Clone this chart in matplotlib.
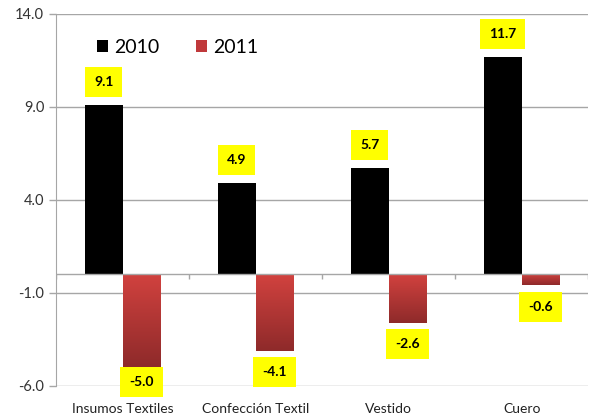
import numpy as np
import matplotlib
matplotlib.use("Agg")
import matplotlib.pyplot as plt
from matplotlib.colors import LinearSegmentedColormap

plt.rcParams['font.family'] = ['Lato', 'DejaVu Sans']

categorias = ['Insumos Textiles', 'Confección Textil', 'Vestido', 'Cuero']
valores_2010 = [9.1, 4.9, 5.7, 11.7]
valores_2011 = [-5.0, -4.1, -2.6, -0.6]
y_ticks = [-6.0, -1.0, 4.0, 9.0, 14.0]

fig = plt.figure(figsize=(5.9, 4.19), dpi=100)
ax = fig.add_axes([0.095, 0.079, 0.902, 0.888])

x = np.arange(len(categorias))
ancho = 0.285
gris = '#a6a6a6'

for y in y_ticks:
    ax.axhline(y, color=gris, lw=1.0, zorder=0)

b1 = ax.bar(x - ancho / 2, valores_2010, ancho, color='black', label='2010', zorder=2)
b2 = ax.bar(x + ancho / 2, valores_2011, ancho, color='#c0393b', label='2011', zorder=2)

# degradado en las barras rojas
cmap = LinearSegmentedColormap.from_list('rojo', ['#d2423f', '#8e2a2a'])
grad = np.linspace(0, 1, 256).reshape(-1, 1)
for rect in b2:
    x0, y0 = rect.get_x(), rect.get_y()
    w, h = rect.get_width(), rect.get_height()
    img = ax.imshow(grad, cmap=cmap, aspect='auto', zorder=3,
                    extent=[x0, x0 + w, y0 + h, y0])
    img.set_clip_path(rect)

# eje de categorías en cero
ax.axhline(0, color=gris, lw=1.0, zorder=4)
ax.vlines(np.arange(len(categorias) + 1) - 0.5, -0.28, 0, color=gris, lw=1.0, zorder=4)

caja = dict(boxstyle='square,pad=0.65', fc='yellow', ec='none')
for xi, v in zip(x - ancho / 2, valores_2010):
    ax.annotate(f'{v:.1f}', (xi, v), xytext=(0, 16.5), textcoords='offset points',
                ha='center', va='center', fontsize=10, fontweight='bold', bbox=caja, zorder=5)
for xi, v in zip(x + ancho / 2, valores_2011):
    # la etiqueta más baja queda pegada a la barra para no salir del gráfico
    dy = -10.5 if v < -4.5 else -15.5
    ax.annotate(f'{v:.1f}', (xi, v), xytext=(0, dy), textcoords='offset points',
                ha='center', va='center', fontsize=10, fontweight='bold', bbox=caja, zorder=5)

ax.set_xlim(-0.5, len(categorias) - 0.5)
ax.set_ylim(-6, 14)
ax.set_yticks(y_ticks)
ax.set_yticklabels([f'{v:.1f}' for v in y_ticks], fontsize=10.5, color='#333333')
ax.tick_params(axis='y', length=5, color=gris, width=1.0)
ax.set_xticks(x)
ax.set_xticklabels(categorias, fontsize=10, color='#222222')
ax.tick_params(axis='x', length=0, pad=12)

for s in ['top', 'right', 'bottom']:
    ax.spines[s].set_visible(False)
ax.spines['left'].set_color(gris)

ax.legend(loc='upper left', bbox_to_anchor=(0.045, 0.98), ncol=2, frameon=False,
          fontsize=14, handlelength=0.55, handleheight=0.55, columnspacing=1.9,
          handletextpad=0.3)

fig.savefig('out.png', dpi=100)
